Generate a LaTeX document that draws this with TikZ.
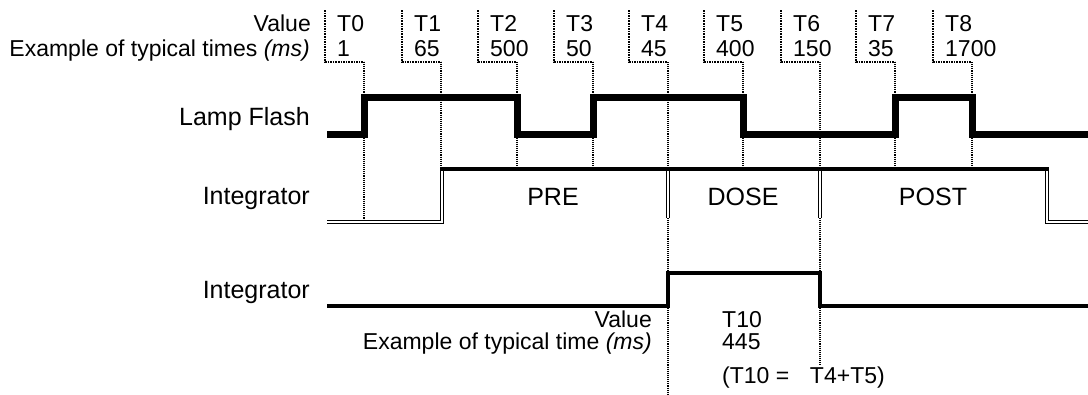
\documentclass[tikz,border=0pt]{standalone}
\usepackage{fontspec}
\setmainfont{Liberation Sans}
\begin{document}
\begin{tikzpicture}[x=1pt, y=-1pt, line cap=butt, line join=miter]

% --- Styles ---
\tikzset{
    lampsignal/.style={
        draw=black,
        line width=7pt
    },
    intsignal/.style={
        draw=black,
        line width=4pt
    },
    intdouble/.style={
        draw=black,
        double=white,
        double distance=1.6pt,
        line width=1.2pt
    },
    doseline/.style={
        draw=black,
        line width=3.5pt
    },
    marker/.style={
        draw=black,
        densely dotted,
        line width=1.1pt
    },
    bracket/.style={
        draw=black,
        densely dotted,
        line width=1.6pt
    },
    sidetext/.style={
        font=\fontsize{25}{27}\selectfont,
        inner sep=0pt
    },
    smalltext/.style={
        font=\fontsize{23}{25}\selectfont,
        inner sep=0pt
    }
}

\useasboundingbox (0,0) rectangle (1088,394);

% =========================================================================
% --- Brackets with values and marker lines ---
% =========================================================================
\foreach \tname/\tval/\xr/\yend [count=\i from 0] in
    {T0/1/364/222, T1/65/441/169, T2/500/517/169, T3/50/593/169,
     T4/45/668/394, T5/400/743/169, T6/150/820/365, T7/35/895/169,
     T8/1700/972/169}
{
    \pgfmathsetmacro{\xl}{\xr-39}
    \draw[bracket] (\xl,10) -- (\xl,62) -- (\xr,62);
    \draw[marker] (\xr,62) -- (\xr,\yend);
    \node[smalltext, anchor=base west] (tag\i) at (\xl+12,31) {\tname};
    \node[smalltext, anchor=base west] (time\i) at (\xl+12,56) {\tval};
}

% --- Header texts ---
\node[smalltext, anchor=base east] (valhead) at (311,31) {Value};
\node[smalltext, anchor=base east] (exhead) at (310,56)
    {Example of typical times \textit{(ms)}};

% =========================================================================
% --- Lamp Flash ---
% =========================================================================
\node[sidetext, anchor=base east] (lampname) at (310,125) {Lamp Flash};
\draw[lampsignal]
    (327,134) -- (364,134) -- (364,97) -- (517,97) -- (517,134)
    -- (593,134) -- (593,97) -- (743,97) -- (743,134)
    -- (895,134) -- (895,97) -- (972,97) -- (972,134) -- (1088,134);

% =========================================================================
% --- Integrator (PRE / DOSE / POST) ---
% =========================================================================
\node[sidetext, anchor=base east] (intname) at (310,204) {Integrator};
\draw[intdouble] (327,222) -- (442,222) -- (442,169);
\draw[intdouble] (668,169) -- (668,218);
\draw[intdouble] (820,169) -- (820,218);
\draw[intdouble] (1047,169) -- (1047,222) -- (1088,222);
\draw[intsignal] (440,169) -- (1049,169);

\node[sidetext, anchor=base] (pre) at (553,205) {PRE};
\node[sidetext, anchor=base] (dose) at (743,205) {DOSE};
\node[sidetext, anchor=base] (post) at (933,205) {POST};

% =========================================================================
% --- Integrator (T10) ---
% =========================================================================
\node[sidetext, anchor=base east] (intnametwo) at (310,298) {Integrator};
\draw[doseline]
    (327,306) -- (668,306) -- (668,273) -- (820,273) -- (820,306) -- (1088,306);

% --- Footer texts ---
\node[smalltext, anchor=base east] (valfoot) at (652,327) {Value};
\node[smalltext, anchor=base east] (exfoot) at (652,349)
    {Example of typical time \textit{(ms)}};
\node[smalltext, anchor=base west] (tten) at (722,327) {T10};
\node[smalltext, anchor=base west] (ttenval) at (722,349) {445};
\node[smalltext, anchor=base west] (tsum) at (722,383)
    {(T10 =\hspace{0.9em}T4+T5)};

\end{tikzpicture}
\end{document}
